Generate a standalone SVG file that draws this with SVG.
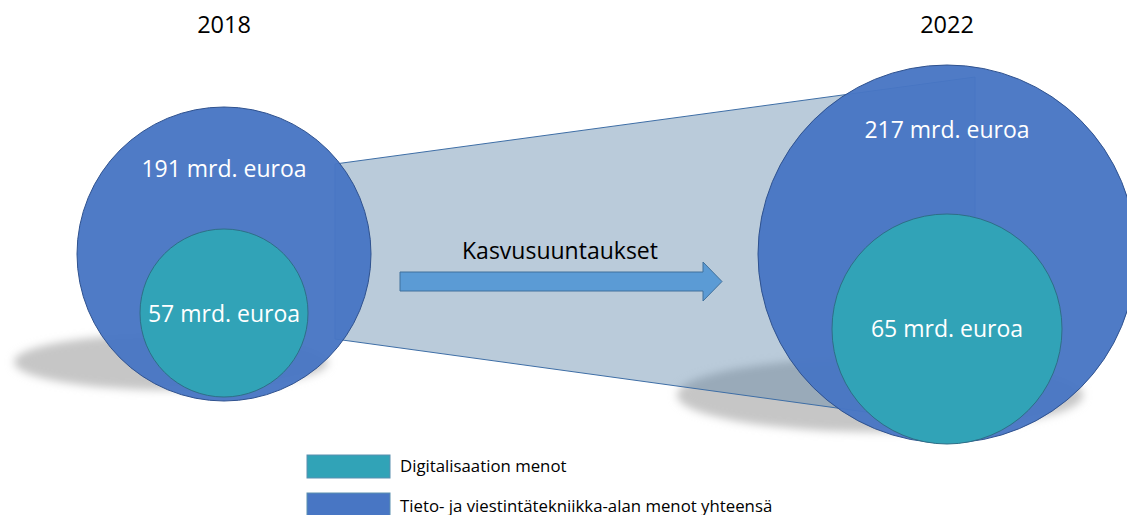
<svg xmlns="http://www.w3.org/2000/svg" width="1127" height="515" viewBox="0 0 1127 515">
<defs>
<filter id="blur" x="-20%" y="-50%" width="140%" height="200%"><feGaussianBlur stdDeviation="4"/></filter>
<style>
.big{fill:#4876c4;stroke:#2f528f;stroke-width:1;fill-opacity:0.96}
.small{fill:#31a3b7;stroke:#2e6f87;stroke-width:1}
.val{font-family:"Open Sans","Liberation Sans",sans-serif;font-size:23px;fill:#ffffff;text-anchor:middle}
.year{font-family:"Open Sans","Liberation Sans",sans-serif;font-size:23.5px;fill:#000000;text-anchor:middle}
.leg{font-family:"Open Sans","Liberation Sans",sans-serif;font-size:16.8px;fill:#000000}
.shadow{fill:#c6c6c6;filter:url(#blur)}
</style>
</defs>
<rect width="1127" height="515" fill="#ffffff"/>
<g id="shadows">
<ellipse class="shadow" cx="171" cy="362" rx="157" ry="28"/>
<ellipse class="shadow" cx="880" cy="395" rx="203" ry="37"/>
</g>
<g id="funnel">
<polygon points="335,164 975,77 975,427 335,339" fill="#5a82a8" fill-opacity="0.42" stroke="#3e6ea6" stroke-width="1"/>
</g>
<g id="node-2018">
<text class="year" x="224" y="33">2018</text>
<circle class="big" cx="224" cy="254" r="147"/>
<circle class="small" cx="224" cy="313" r="84"/>
<text class="val" x="224" y="177">191 mrd. euroa</text>
<text class="val" x="224" y="322">57 mrd. euroa</text>
</g>
<g id="node-2022">
<text class="year" x="947" y="33">2022</text>
<circle class="big" cx="947" cy="254" r="189"/>
<circle class="small" cx="947" cy="329" r="115"/>
<text class="val" x="947" y="138">217 mrd. euroa</text>
<text class="val" x="947" y="337">65 mrd. euroa</text>
</g>
<g id="connectors">
<polygon points="400,272 703,272 703,262 722,281.5 703,301 703,291 400,291" fill="#5b9bd5" stroke="#41719c" stroke-width="1"/>
<text x="560" y="259" font-family="Open Sans, Liberation Sans, sans-serif" font-size="23" fill="#000000" text-anchor="middle">Kasvusuuntaukset</text>
</g>
<g id="legend">
<rect x="307" y="455" width="83" height="23" fill="#31a3b7" stroke="#5b8fb0" stroke-width="1"/>
<text class="leg" x="400" y="472">Digitalisaation menot</text>
<rect x="307" y="493" width="83" height="25" fill="#4876c4" stroke="#5b8fb0" stroke-width="1"/>
<text class="leg" x="400" y="512">Tieto- ja viestintätekniikka-alan menot yhteensä</text>
</g>
</svg>
